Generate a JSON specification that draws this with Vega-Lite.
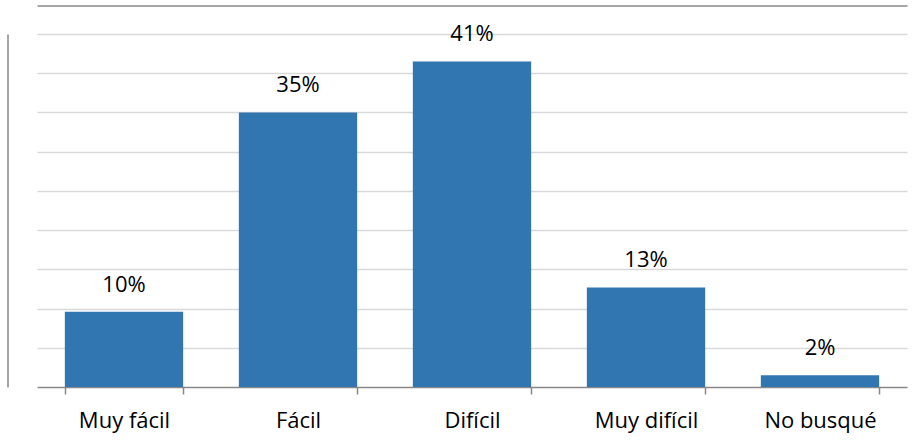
{
  "$schema": "https://vega.github.io/schema/vega-lite/v6.json",
  "width": 870,
  "height": 353,
  "autosize": "none",
  "padding": {"left": 37, "top": 34, "right": 16, "bottom": 61},
  "background": "white",
  "config": {"view": {"stroke": null}, "font": "Open Sans"},
  "data": {"values": [
    {"cat": "Muy fácil", "pct": 0.096, "label": "10%"},
    {"cat": "Fácil", "pct": 0.35, "label": "35%"},
    {"cat": "Difícil", "pct": 0.415, "label": "41%"},
    {"cat": "Muy difícil", "pct": 0.127, "label": "13%"},
    {"cat": "No busqué", "pct": 0.015, "label": "2%"}
  ]},
  "resolve": {"axis": {"x": "independent", "y": "independent"}},
  "layer": [
    {"mark": {"type": "bar", "color": "#3276b1"},
     "encoding": {
       "x": {"field": "cat", "type": "nominal", "sort": null,
         "scale": {"paddingInner": 0.32, "paddingOuter": 0.16},
         "axis": {"orient": "bottom", "title": null, "labelAngle": 0, "labelFontSize": 22, "labelColor": "#000", "labelPadding": 16,
           "domainColor": "#888", "domainWidth": 1.5, "tickColor": "#888", "tickWidth": 1.5, "tickSize": 7, "tickBand": "extent", "grid": false}},
       "y": {"field": "pct", "type": "quantitative",
         "scale": {"domain": [0, 0.45], "nice": false, "zero": true},
         "axis": {"orient": "left", "title": null, "labels": false, "ticks": false, "domain": false, "grid": true,
           "values": [0.05, 0.1, 0.15, 0.2, 0.25, 0.3, 0.35, 0.4, 0.45], "gridColor": "#d9d9d9", "gridWidth": 1.5}}
     }},
    {"mark": {"type": "text", "baseline": "bottom", "dy": -15, "fontSize": 22, "color": "#000"},
     "encoding": {
       "x": {"field": "cat", "type": "nominal", "sort": null,
         "axis": {"orient": "top", "offset": 28.5, "title": null, "labels": false, "ticks": false, "grid": false,
           "domain": true, "domainColor": "#888", "domainWidth": 1.5}},
       "y": {"field": "pct", "type": "quantitative",
         "axis": {"orient": "left", "offset": 29.5, "title": null, "labels": false, "ticks": false, "grid": false,
           "domain": true, "domainColor": "#888", "domainWidth": 1.5}},
       "text": {"field": "label"}
     }}
  ]
}
